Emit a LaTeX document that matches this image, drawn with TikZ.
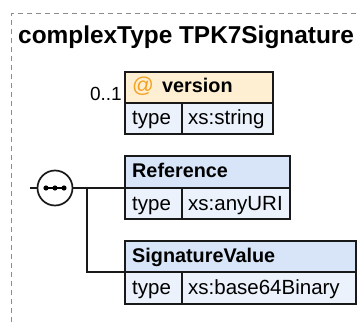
\documentclass[tikz,border=0pt]{standalone}
\usepackage{fontspec}
\setmainfont{Liberation Sans}
\begin{document}
\begin{tikzpicture}[x=1pt,y=-1pt,
  frame/.style={draw=black!45, dashed, dash pattern=on 5pt off 4pt, line width=1pt},
  bx/.style={draw=black!90, line width=1.7pt},
  conn/.style={draw=black!90, line width=1.7pt},
  lbl/.style={inner sep=0pt, anchor=base west, font=\fontsize{20.5}{24}\selectfont},
  hdr/.style={inner sep=0pt, anchor=base west, font=\bfseries\fontsize{19.8}{24}\selectfont}]
\definecolor{attrhdr}{HTML}{FFEFD2}
\definecolor{elhdr}{HTML}{D8E5F8}
\definecolor{typerow}{HTML}{EBF2FC}
\definecolor{atcol}{HTML}{F5A01E}
\useasboundingbox (0,0) rectangle (360,322);
% frame
\draw[frame] (12,322) -- (12,13) -- (360,13);
\node[inner sep=0pt, anchor=base west, font=\bfseries\fontsize{24.4}{28}\selectfont] (title) at (18,43) {complexType TPK7Signature};
% version attribute
\fill[attrhdr] (125,72) rectangle (273,103);
\fill[typerow] (125,103) rectangle (273,134);
\draw[bx] (125,72) rectangle (273,134);
\draw[bx] (125,103) -- (273,103);
\draw[bx] (182,103) -- (182,134);
\node[inner sep=0pt, anchor=base west, font=\fontsize{21.5}{24}\selectfont, text=atcol] (at) at (132,92) {@};
\node[hdr] (vname) at (162,92) {version};
\node[lbl] (vtype) at (132,124) {type};
\node[lbl] (vval) at (188,124) {xs:string};
\node[inner sep=0pt, anchor=base east, font=\fontsize{19}{22}\selectfont] (occ) at (122,100) {0..1};
% Reference
\fill[elhdr] (125,156) rectangle (290,188);
\fill[typerow] (125,188) rectangle (290,219);
\draw[bx] (125,156) rectangle (290,219);
\draw[bx] (125,188) -- (290,188);
\draw[bx] (182,188) -- (182,219);
\node[hdr] (rname) at (132,177) {Reference};
\node[lbl] (rtype) at (132,210) {type};
\node[lbl] (rval) at (188,210) {xs:anyURI};
\coordinate (refin) at (125,188);
% SignatureValue
\fill[elhdr] (125,241) rectangle (356,272);
\fill[typerow] (125,272) rectangle (356,304);
\draw[bx] (125,241) rectangle (356,304);
\draw[bx] (125,272) -- (356,272);
\draw[bx] (182,272) -- (182,304);
\node[hdr] (sname) at (132,262) {SignatureValue};
\node[lbl] (stype) at (132,294) {type};
\node[lbl] (sval) at (188,294) {xs:base64Binary};
\coordinate (sigin) at (125,272);
% sequence compositor
\node[draw=black!90, line width=1.7pt, circle, minimum size=35pt, inner sep=0pt, fill=white] (seq) at (55,188) {};
\draw[line width=1.5pt] (46,188) -- (64,188);
\foreach \xx in {46,55,64} \fill (\xx,188) circle (2.6pt);
\coordinate (seqin) at (30,188);
\coordinate (split) at (87,188);
\draw[conn] (seqin) -- (seq.west);
\draw[conn] (seq.east) -- (refin);
\draw[conn] (split) |- (sigin);
\end{tikzpicture}
\end{document}
